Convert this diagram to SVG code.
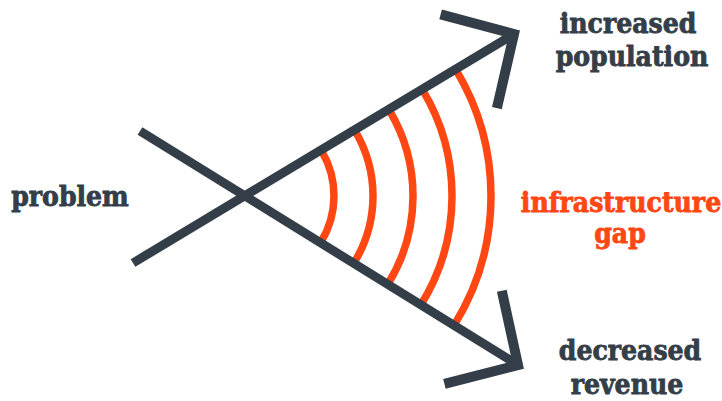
<svg xmlns="http://www.w3.org/2000/svg" width="722" height="401" viewBox="0 0 722 401">
<style>
.arc{fill:none;stroke:#FF4713;stroke-width:7.5}
.ln{fill:none;stroke:#343E48;stroke-width:9;stroke-linecap:butt}
.head{fill:none;stroke:#343E48;stroke-width:10;stroke-linejoin:miter;stroke-miterlimit:10;stroke-linecap:butt}
.t{font-family:"DejaVu Serif Condensed","DejaVu Serif","Liberation Serif",serif;font-stretch:condensed;font-weight:bold;font-size:28px;fill:#343E48;stroke:#343E48;stroke-width:0.8;text-anchor:middle}
.o{fill:#FF4713;stroke:#FF4713}
</style>
<rect width="722" height="401" fill="#fff"/>
<g id="gap-arcs">
<path class="arc" d="M321.43,150.68 A88,88 0 0 1 320.87,242.24"/>
<path class="arc" d="M354.86,130.60 A127,127 0 0 1 354.05,262.74"/>
<path class="arc" d="M389.15,110.00 A167,167 0 0 1 388.08,283.76"/>
<path class="arc" d="M422.58,89.91 A206,206 0 0 1 421.26,304.25"/>
<path class="arc" d="M456.01,69.83 A245,245 0 0 1 454.45,324.75"/>
</g>
<g id="connectors">
<line class="ln" x1="133" y1="263" x2="514" y2="34"/>
<line class="ln" x1="140" y1="131" x2="518" y2="365"/>
<polyline class="head" points="440.6,14.3 514,34 496.9,108.1"/>
<polyline class="head" points="501.8,290.7 518,365 444.4,383.8"/>
</g>
<g id="problem"><text class="t" x="70" y="206">problem</text></g>
<g id="increased-population"><text class="t" x="628" y="33">increased</text><text class="t" x="632" y="66">population</text></g>
<g id="infrastructure-gap"><text class="t o" x="621" y="212">infrastructure</text><text class="t o" x="620" y="243">gap</text></g>
<g id="decreased-revenue"><text class="t" x="630" y="360">decreased</text><text class="t" x="627" y="394">revenue</text></g>
</svg>
